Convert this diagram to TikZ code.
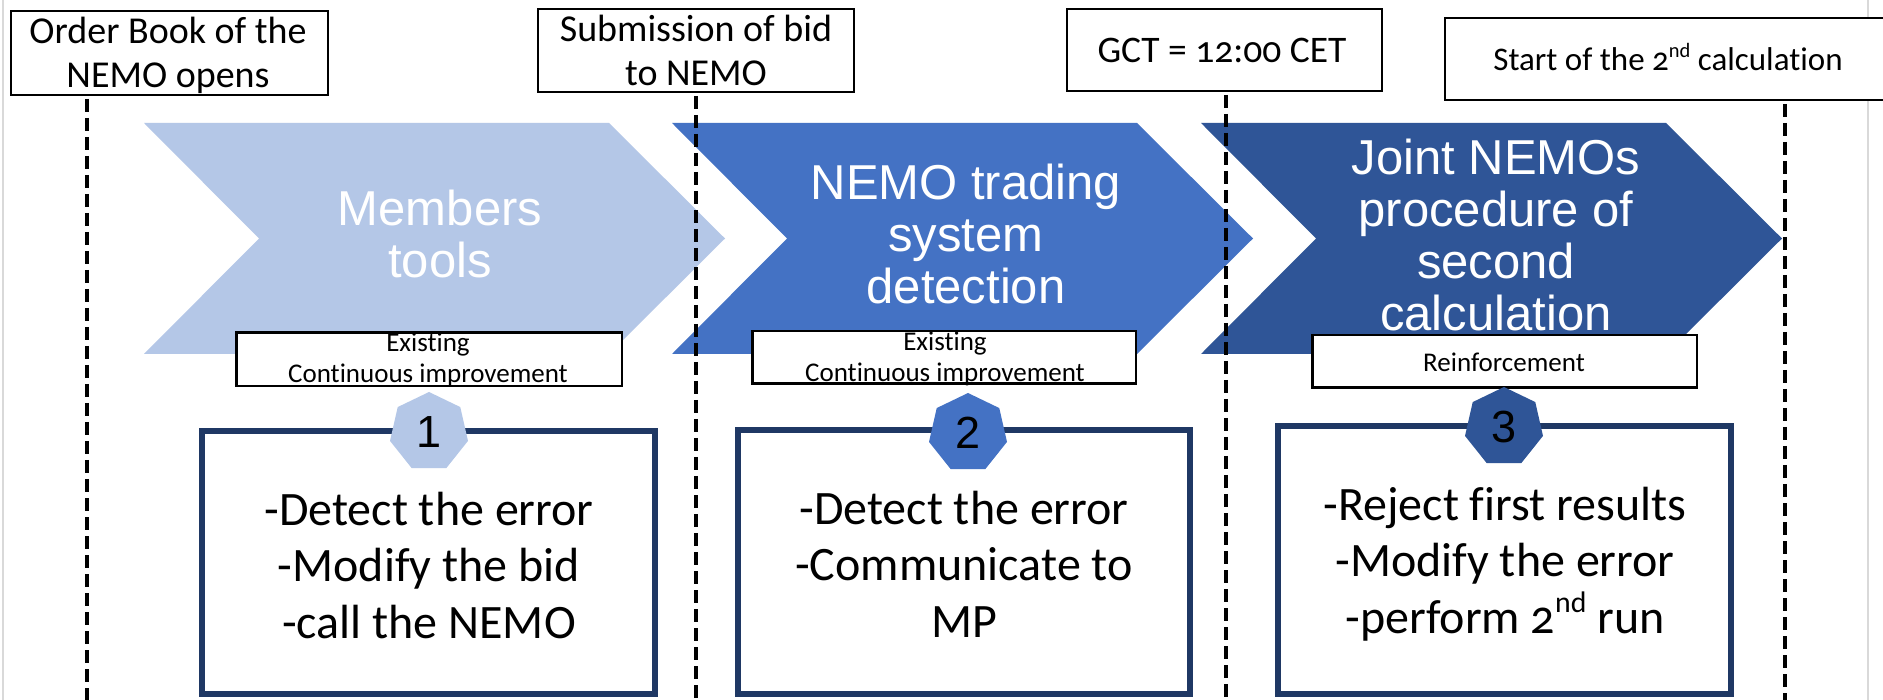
\documentclass[tikz,border=0pt]{standalone}
\usepackage{fontspec}
\setmainfont{Carlito}[Numbers=OldStyle, Ligatures=NoCommon]
\newfontfamily\arialf{Liberation Sans}
\usetikzlibrary{shapes.geometric}
\definecolor{cLight}{HTML}{B4C7E7}
\definecolor{cMid}{HTML}{4472C4}
\definecolor{cDark}{HTML}{2F5597}
\definecolor{cNavy}{HTML}{1F3864}
\definecolor{cFrame}{HTML}{D9D9D9}
\newcommand\myss[1]{\raisebox{0.42em}{\scalebox{0.62}{#1}}}
\tikzset{
  topbox/.style={draw=black, line width=2pt, fill=white, inner sep=0pt},
  toptext/.style={font=\fontsize{38}{44.5}\selectfont, align=center, inner sep=0pt, anchor=base},
  chevtext/.style={font=\arialf\fontsize{49}{52}\selectfont, text=white, align=center, inner sep=0pt, anchor=base},
  tagbox/.style={draw=black, line width=2.5pt, fill=white, inner sep=0pt},
  tagtext/.style={font=\fontsize{27}{31}\selectfont, align=center, inner sep=0pt, anchor=base},
  navybox/.style={draw=cNavy, line width=6pt, fill=white, inner sep=0pt},
  listtext/.style={font=\fontsize{48}{56.5}\selectfont, align=center, inner sep=0pt, anchor=base},
  hept/.style={regular polygon, regular polygon sides=7, minimum size=80pt, inner sep=0pt, outer sep=0pt, font=\arialf\fontsize{45}{45}\selectfont},
  vdash/.style={black, line width=4pt, dash pattern=on 13pt off 6pt},
}
\begin{document}
\begin{tikzpicture}[x=1pt, y=-1pt]
\clip (0,0) rectangle (1883,700);
\fill[white] (0,0) rectangle (1883,700);
% slide frame
\draw[cFrame, line width=2pt] (2.5,0) -- (2.5,700);
\draw[cFrame, line width=2pt] (1868,0) -- (1868,700);
% chevrons
\foreach \x/\c in {144/cLight, 672/cMid, 1201/cDark}
  \fill[\c] (\x,123) -- ++(465,0) -- ++(116,115.5) -- ++(-116,115.5) -- ++(-465,0) -- ++(115,-115.5) -- cycle;
\node[chevtext] (c1) at (440,278) {Members\\tools};
\node[chevtext] (c2) at (966,304) {NEMO trading\\system\\detection};
\node[chevtext] (c3) at (1496,331) {Joint NEMOs\\procedure of\\second\\calculation};
% top milestone boxes
\node[topbox, minimum width=317pt, minimum height=84pt] (tb1) at (169.5,53) {};
\node[toptext] (tt1) at (168,88) {Order Book of the\\NEMO opens};
\node[topbox, minimum width=316pt, minimum height=83pt] (tb2) at (696,50.5) {};
\node[toptext] (tt2) at (696,86) {Submission of bid\\to NEMO};
\node[topbox, minimum width=315pt, minimum height=82pt] (tb3) at (1224.5,50) {};
\node[toptext, font=\fontsize{37.5}{44}\selectfont] (tt3) at (1222,63) {GCT = 12:00 CET};
\node[topbox, minimum width=447pt, minimum height=82pt] (tb4) at (1668.5,59) {};
\node[toptext, font=\fontsize{33}{40}\selectfont] (tt4) at (1668,71) {Start of the 2\myss{nd} calculation};
% dashed time lines
\coordinate (x1) at (87,700);
\coordinate (x2) at (696,700);
\coordinate (x3) at (1226,700);
\coordinate (x4) at (1785,700);
\draw[vdash] ([yshift=-3pt]tb1.south -| x1) -- (x1);
\draw[vdash] ([yshift=-3pt]tb2.south -| x2) -- (x2);
\draw[vdash] ([yshift=-3pt]tb3.south -| x3) -- (x3);
\draw[vdash] ([yshift=-3pt]tb4.south -| x4) -- (x4);
% tag boxes
\node[tagbox, minimum width=385.5pt, minimum height=53.5pt] (e1) at (429,359.5) {};
\node[tagtext] (et1) at (428,383) {Existing\\Continuous improvement};
\node[tagbox, minimum width=383.5pt, minimum height=52.5pt] (e2) at (944,357.5) {};
\node[tagtext] (et2) at (945,382) {Existing\\Continuous improvement};
\node[tagbox, minimum width=384.5pt, minimum height=52.5pt] (e3) at (1504.5,361.5) {};
\node[tagtext] (et3) at (1504,372) {Reinforcement};
% navy boxes
\node[navybox, minimum width=453pt, minimum height=263pt] (b1) at (428.5,562.5) {};
\node[navybox, minimum width=452pt, minimum height=264pt] (b2) at (964,562) {};
\node[navybox, minimum width=453pt, minimum height=268pt] (b3) at (1504.5,560) {};
\node[listtext] (l1) at (429,638) {-Detect the error\\-Modify the bid\\-call the NEMO};
\node[listtext] (l2) at (964,637) {-Detect the error\\-Communicate to\\MP};
\node[listtext] (l3) at (1505,633) {-Reject first results\\-Modify the error\\-perform 2\myss{nd} run};
% heptagon badges
\node[hept, fill=cLight] (h1) at (429,432) {1};
\node[hept, fill=cMid] (h2) at (968,433) {2};
\node[hept, fill=cDark] (h3) at (1504,427) {3};
\end{tikzpicture}
\end{document}
